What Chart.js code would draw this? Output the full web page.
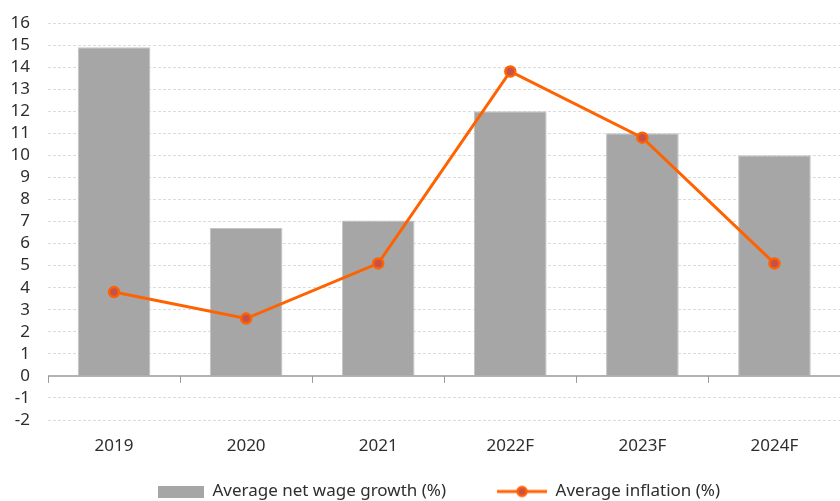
<!DOCTYPE html>
<html>
<head>
<meta charset="utf-8">
<script src="https://cdn.jsdelivr.net/npm/chart.js@4/dist/chart.umd.min.js"></script>
<style>
  html, body { margin: 0; padding: 0; background: #fff; overflow: hidden; }
  #wrap { position: absolute; left: 0; top: 0; width: 848px; height: 510px; }
</style>
</head>
<body>
<div id="wrap"><canvas id="c"></canvas></div>
<script>
const categories = ["2019", "2020", "2021", "2022F", "2023F", "2024F"];
const wageGrowth = [14.9, 6.7, 7.05, 12.0, 11.0, 10.0];
const inflation = [3.8, 2.6, 5.1, 13.8, 10.8, 5.1];
const yTicks = { min: -2, max: 16, step: 1 };
const seriesNames = ["Average net wage growth (%)", "Average inflation (%)"];

const ORANGE = "#FF6200";
const POINT_FILL = "#C8504A";
const BAR = "#A6A6A6";
const TEXT = "#2e2e2e";
const FONT = "'Noto Sans', 'DejaVu Sans', sans-serif";
const SW = 97; // legend swatch slot width

function barSwatch() {
  const c = document.createElement("canvas");
  c.width = SW; c.height = 12;
  const g = c.getContext("2d");
  g.fillStyle = BAR; g.fillRect(SW - 46, 0, 46, 12);
  return c;
}
function lineSwatch() {
  const c = document.createElement("canvas");
  c.width = SW; c.height = 14;
  const g = c.getContext("2d");
  const x0 = SW - 50;
  g.strokeStyle = ORANGE; g.lineWidth = 3;
  g.beginPath(); g.moveTo(x0, 7); g.lineTo(SW, 7); g.stroke();
  g.beginPath(); g.arc(x0 + 25, 7, 4.5, 0, Math.PI * 2);
  g.fillStyle = POINT_FILL; g.fill();
  g.lineWidth = 2.5; g.strokeStyle = ORANGE; g.stroke();
  return c;
}

const zeroAxisPlugin = {
  id: "zeroAxis",
  afterLayout(chart) {
    if (chart.legend) { chart.legend.left -= 14; chart.legend.right -= 14; }
  },
  afterDatasetsDraw(chart) {
    const x = chart.scales.x, y = chart.scales.y;
    const y0 = y.getPixelForValue(0);
    const ctx = chart.ctx;
    ctx.save();
    ctx.strokeStyle = "#9a9a9a";
    ctx.lineWidth = 1.5;
    ctx.beginPath();
    ctx.moveTo(x.left, y0); ctx.lineTo(x.right, y0);
    ctx.stroke();
    ctx.lineWidth = 1;
    for (let i = 0; i <= categories.length; i++) {
      const px = Math.round(x.getPixelForValue(i - 0.5)) + 0.5;
      ctx.beginPath();
      ctx.moveTo(px, y0); ctx.lineTo(px, y0 + 7);
      ctx.stroke();
    }
    ctx.restore();
  }
};

new Chart(document.getElementById("c"), {
  type: "bar",
  data: {
    labels: categories,
    datasets: [
      { type: "line", label: seriesNames[1], data: inflation, borderColor: ORANGE, borderWidth: 3,
        backgroundColor: POINT_FILL, pointBackgroundColor: POINT_FILL, pointBorderColor: ORANGE,
        pointBorderWidth: 2.5, pointRadius: 5, tension: 0, order: 0 },
      { type: "bar", label: seriesNames[0], data: wageGrowth, backgroundColor: BAR, borderColor: "#c4c4c4",
        borderWidth: 1, categoryPercentage: 1, barPercentage: 0.55, order: 1 }
    ]
  },
  options: {
    responsive: true,
    maintainAspectRatio: false,
    animation: false,
    layout: { padding: { top: 23, left: 0, right: -7, bottom: 0 } },
    plugins: {
      tooltip: { enabled: false },
      legend: {
        position: "bottom",
        labels: {
          usePointStyle: true, pointStyleWidth: SW, padding: 4, color: TEXT,
          font: { family: FONT, size: 17 },
          generateLabels(chart) {
            return [
              { text: seriesNames[0], pointStyle: barSwatch(), datasetIndex: 1, fontColor: TEXT, lineWidth: 0, strokeStyle: "transparent", fillStyle: BAR },
              { text: seriesNames[1], pointStyle: lineSwatch(), datasetIndex: 0, fontColor: TEXT, lineWidth: 0, strokeStyle: "transparent", fillStyle: ORANGE }
            ];
          }
        }
      }
    },
    scales: {
      x: {
        offset: true,
        afterFit(s) { s.height = 59; s.paddingLeft = 0; s.paddingRight = 0; },
        grid: { display: false },
        border: { display: false },
        ticks: { color: TEXT, font: { family: FONT, size: 17 }, padding: 8, autoSkip: false, maxRotation: 0 }
      },
      y: {
        min: yTicks.min, max: yTicks.max,
        afterFit(s) { s.width = 48; s.paddingTop = 0; s.paddingBottom = 0; },
        ticks: { stepSize: yTicks.step, color: TEXT, font: { family: FONT, size: 17 }, padding: 18, autoSkip: false },
        grid: {
          drawTicks: false,
          color: ctx => (ctx.tick && ctx.tick.value === 0) ? "rgba(0,0,0,0)" : "#dcdcdc",
          lineWidth: 1
        },
        border: { display: false, dash: [3, 2] }
      }
    }
  },
  plugins: [zeroAxisPlugin]
});
</script>
</body>
</html>
